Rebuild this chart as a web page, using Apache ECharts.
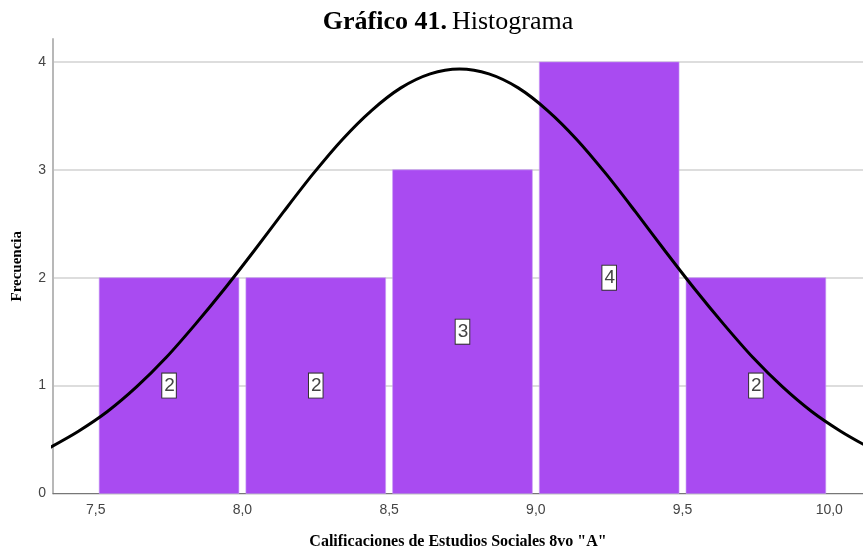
<!DOCTYPE html>
<html>
<head>
<meta charset="utf-8">
<script src="https://cdn.jsdelivr.net/npm/echarts@6/dist/echarts.min.js"></script>
<style>
  html, body { margin: 0; padding: 0; background: #fff; }
  #chart { width: 863px; height: 550px; }
</style>
</head>
<body>
<div id="chart"></div>
<script>
// Histogram bins (lower edge, upper edge) and frequencies
const binStarts = [7.5, 8.0, 8.5, 9.0, 9.5];
const binEnds   = [8.0, 8.5, 9.0, 9.5, 10.0];
const counts    = [2, 2, 3, 4, 2];

// Fitted normal curve, sampled as (grade, frequency) pairs
const curveX = [7.34, 7.44, 7.54, 7.64, 7.74, 7.84, 7.94, 8.04, 8.14, 8.24,
                8.34, 8.44, 8.54, 8.64, 8.74, 8.84, 8.94, 9.04, 9.14, 9.24,
                9.34, 9.44, 9.54, 9.64, 9.74, 9.84, 9.94, 10.04, 10.14];
const curveY = [0.42, 0.575, 0.76, 0.99, 1.26, 1.57, 1.90, 2.25, 2.61, 2.96,
                3.28, 3.55, 3.76, 3.89, 3.935, 3.89, 3.76, 3.55, 3.28, 2.96,
                2.61, 2.25, 1.90, 1.57, 1.26, 0.99, 0.76, 0.575, 0.42];

// Axis tick labels
const xTicks = [7.5, 8.0, 8.5, 9.0, 9.5, 10.0];

const tickFont = '"Liberation Sans Narrow", "Liberation Sans", Arial, sans-serif';
const serif = '"Liberation Serif", "Times New Roman", serif';

const barData = binStarts.map((s, i) => [s, binEnds[i], counts[i]]);
const lineData = curveX.map((x, i) => [x, curveY[i]]);

const chart = echarts.init(document.getElementById('chart'));
chart.setOption({
  animation: false,
  backgroundColor: '#ffffff',
  title: {
    text: '{b|Gráfico 41.} {n|Histograma}',
    left: 443,
    top: 4,
    textAlign: 'center',
    textStyle: {
      rich: {
        b: { fontFamily: serif, fontWeight: 'bold', fontSize: 26, color: '#000' },
        n: { fontFamily: serif, fontWeight: 'normal', fontSize: 26, color: '#000' }
      }
    }
  },
  grid: { left: 53, right: 0, top: 39, bottom: 56.5, containLabel: false, outerBoundsMode: 'none' },
  xAxis: {
    type: 'value',
    min: 7.3545,
    max: 10.115,
    name: 'Calificaciones de Estudios Sociales 8vo "A"',
    nameLocation: 'middle',
    nameGap: 40,
    nameTextStyle: { fontFamily: serif, fontWeight: 'bold', fontSize: 16, color: '#000' },
    axisLine: { show: true, onZero: false, lineStyle: { color: '#777', width: 1 } },
    axisTick: { show: false },
    splitLine: { show: false },
    axisLabel: {
      customValues: xTicks,
      margin: 10,
      fontFamily: tickFont,
      fontSize: 14,
      color: '#444',
      formatter: v => v.toFixed(1).replace('.', ',')
    }
  },
  yAxis: {
    type: 'value',
    min: 0,
    max: 4.213,
    interval: 1,
    name: 'Frecuencia',
    nameLocation: 'middle',
    nameGap: 28,
    nameTextStyle: { fontFamily: serif, fontWeight: 'bold', fontSize: 15, color: '#000' },
    axisLine: { show: true, lineStyle: { color: '#b8b8b8', width: 2 } },
    axisTick: { show: false },
    splitLine: { show: true, showMaxLine: false, lineStyle: { color: '#d2d2d2', width: 1.5 } },
    axisLabel: {
      margin: 7,
      fontFamily: tickFont,
      fontSize: 14,
      color: '#444',
      showMaxLabel: false,
      formatter: v => (Number.isInteger(v) ? String(v) : '')
    }
  },
  series: [
    {
      type: 'custom',
      z: 2,
      data: barData,
      encode: { x: [0, 1], y: 2 },
      renderItem: function (params, api) {
        const p0 = api.coord([api.value(0), 0]);
        const p1 = api.coord([api.value(1), api.value(2)]);
        const inset = 3.5;
        return {
          type: 'rect',
          shape: { x: p0[0] + inset, y: p1[1], width: p1[0] - p0[0] - 2 * inset, height: p0[1] - p1[1] },
          style: { fill: '#a94bf1', stroke: '#c69af3', lineWidth: 0.6 },
          textContent: {
            style: {
              text: String(api.value(2)),
              fontFamily: '"Liberation Sans Narrow", "Liberation Sans", Arial, sans-serif',
              fontSize: 19,
              fill: '#444',
              backgroundColor: '#ffffff',
              borderColor: '#333',
              borderWidth: 1,
              padding: [3, 1, 2, 2]
            }
          },
          textConfig: { position: 'inside' }
        };
      }
    },
    {
      type: 'line',
      z: 5,
      data: lineData,
      smooth: 0.3,
      clip: true,
      showSymbol: false,
      symbol: 'none',
      lineStyle: { color: '#000', width: 3 }
    }
  ]
});
</script>
</body>
</html>
